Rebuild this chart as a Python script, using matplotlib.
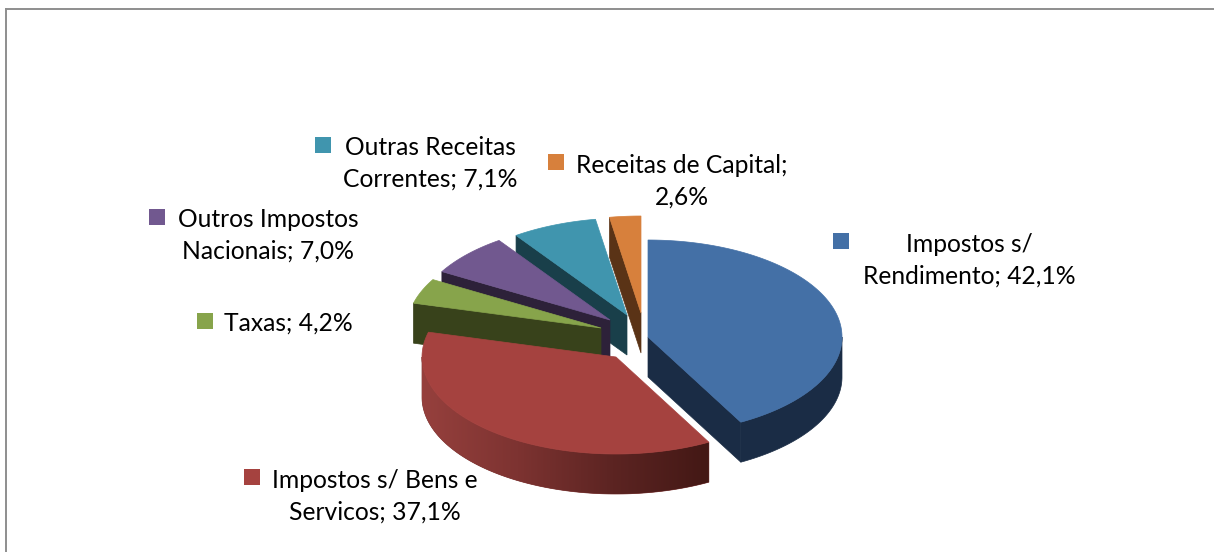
import numpy as np
import matplotlib
matplotlib.use("Agg")
import matplotlib.pyplot as plt
import matplotlib.colors as mcolors
from matplotlib.patches import Polygon, Rectangle

# data, clockwise from 12 o'clock
categories = ["Impostos s/\nRendimento", "Impostos s/ Bens e\nServicos", "Taxas",
              "Outros Impostos\nNacionais", "Outras Receitas\nCorrentes", "Receitas de Capital;\n"]
values = [42.1, 37.1, 4.2, 7.0, 7.1, 2.6]

# styles
top_colors = ["#4470a6", "#a5423f", "#87a44b", "#71588f", "#4095ae", "#d7803c"]
side_colors = ["#1a2c45", "#7a3230", "#38421b", "#2d2139", "#193f4a", "#5a3316"]

# layout, in pixels of the 1214x552 picture
RX, RY, DEPTH = 194, 97, 40
apex_x = [648, 616, 601, 610, 627, 641]
apex_y = [337, 357, 328, 320, 315, 313]
label_x = [969, 375, 288, 268, 430, 682]
label_y = [260, 496, 323, 235, 163, 181]
key_x = [841, 252, 205, 157, 323, 556]
key_y = [241, 477, 321, 217, 145, 162]
draw_order = [5, 4, 3, 2, 1, 0]

plt.rcParams['font.family'] = ['Lato', 'DejaVu Sans']

fig = plt.figure(figsize=(12.14, 5.52), dpi=100)
ax = fig.add_axes([0, 0, 1, 1])
ax.set_xlim(0, 1214)
ax.set_ylim(552, 0)
ax.axis('off')


def rim(cx, cy, a, b):
    t = np.radians(np.linspace(a, b, max(int(b - a) * 2, 2)))
    return np.column_stack([cx + RX * np.sin(t), cy - RY * np.cos(t)])


def draw_wall(cx, cy, angle, color, zorder):
    t = np.radians(angle)
    ox, oy = cx + RX * np.sin(t), cy - RY * np.cos(t)
    pts = [(cx, cy), (ox, oy), (ox, oy + DEPTH), (cx, cy + DEPTH)]
    ax.add_patch(Polygon(pts, closed=True, fc=color, ec=color, lw=0.5, zorder=zorder))


ax.plot([6, 6], [552, 9], color="#8e8e8e", lw=1.4, zorder=1)
ax.plot([6, 1214], [9, 9], color="#8e8e8e", lw=1.4, zorder=1)

fractions = np.array(values) / sum(values) * 360
ends = np.cumsum(fractions)
starts = ends - fractions

red_shade = mcolors.LinearSegmentedColormap.from_list(
    "red_shade", ["#96403d", "#7d3331", "#5c2422", "#431815"])

z = 2
for i in draw_order:
    a, b = starts[i], ends[i]
    cx, cy = apex_x[i], apex_y[i]
    # cut faces that look towards the viewer
    if 180 < a < 360:
        draw_wall(cx, cy, a, side_colors[i], z)
    if 0 < b < 180:
        draw_wall(cx, cy, b, side_colors[i], z)
    # outer skin, only the front half is seen
    lo, hi = max(a, 90), min(b, 270)
    if hi > lo:
        edge = rim(cx, cy, lo, hi)
        skin = np.vstack([edge, (edge + [0, DEPTH])[::-1]])
        poly = Polygon(skin, closed=True, fc=side_colors[i], ec=side_colors[i], lw=0.5, zorder=z)
        ax.add_patch(poly)
        if i == 1:
            x0, x1 = skin[:, 0].min(), skin[:, 0].max()
            y0, y1 = skin[:, 1].min(), skin[:, 1].max()
            im = ax.imshow(np.linspace(0, 1, 256).reshape(1, -1), cmap=red_shade, aspect='auto',
                           extent=(x0, x1, y1, y0), zorder=z)
            im.set_clip_path(poly)
    top = np.vstack([[cx, cy], rim(cx, cy, a, b)])
    ax.add_patch(Polygon(top, closed=True, fc=top_colors[i], ec=top_colors[i], lw=0.5, zorder=z + 1))
    z += 2

ax.set_xlim(0, 1214)
ax.set_ylim(552, 0)

for i, name in enumerate(categories):
    pct = f"{values[i]:.1f}".replace('.', ',') + "%"
    sep = "" if name.endswith("\n") else "; "
    ax.text(label_x[i], label_y[i], name + sep + pct, ha='center', va='center', multialignment='center',
            fontsize=17.7, linespacing=1.45, color="black", zorder=30)
    ax.add_patch(Rectangle((key_x[i] - 8, key_y[i] - 8), 16, 16, fc=top_colors[i], ec='none', zorder=30))

fig.savefig("out.png", dpi=100)
plt.close()
